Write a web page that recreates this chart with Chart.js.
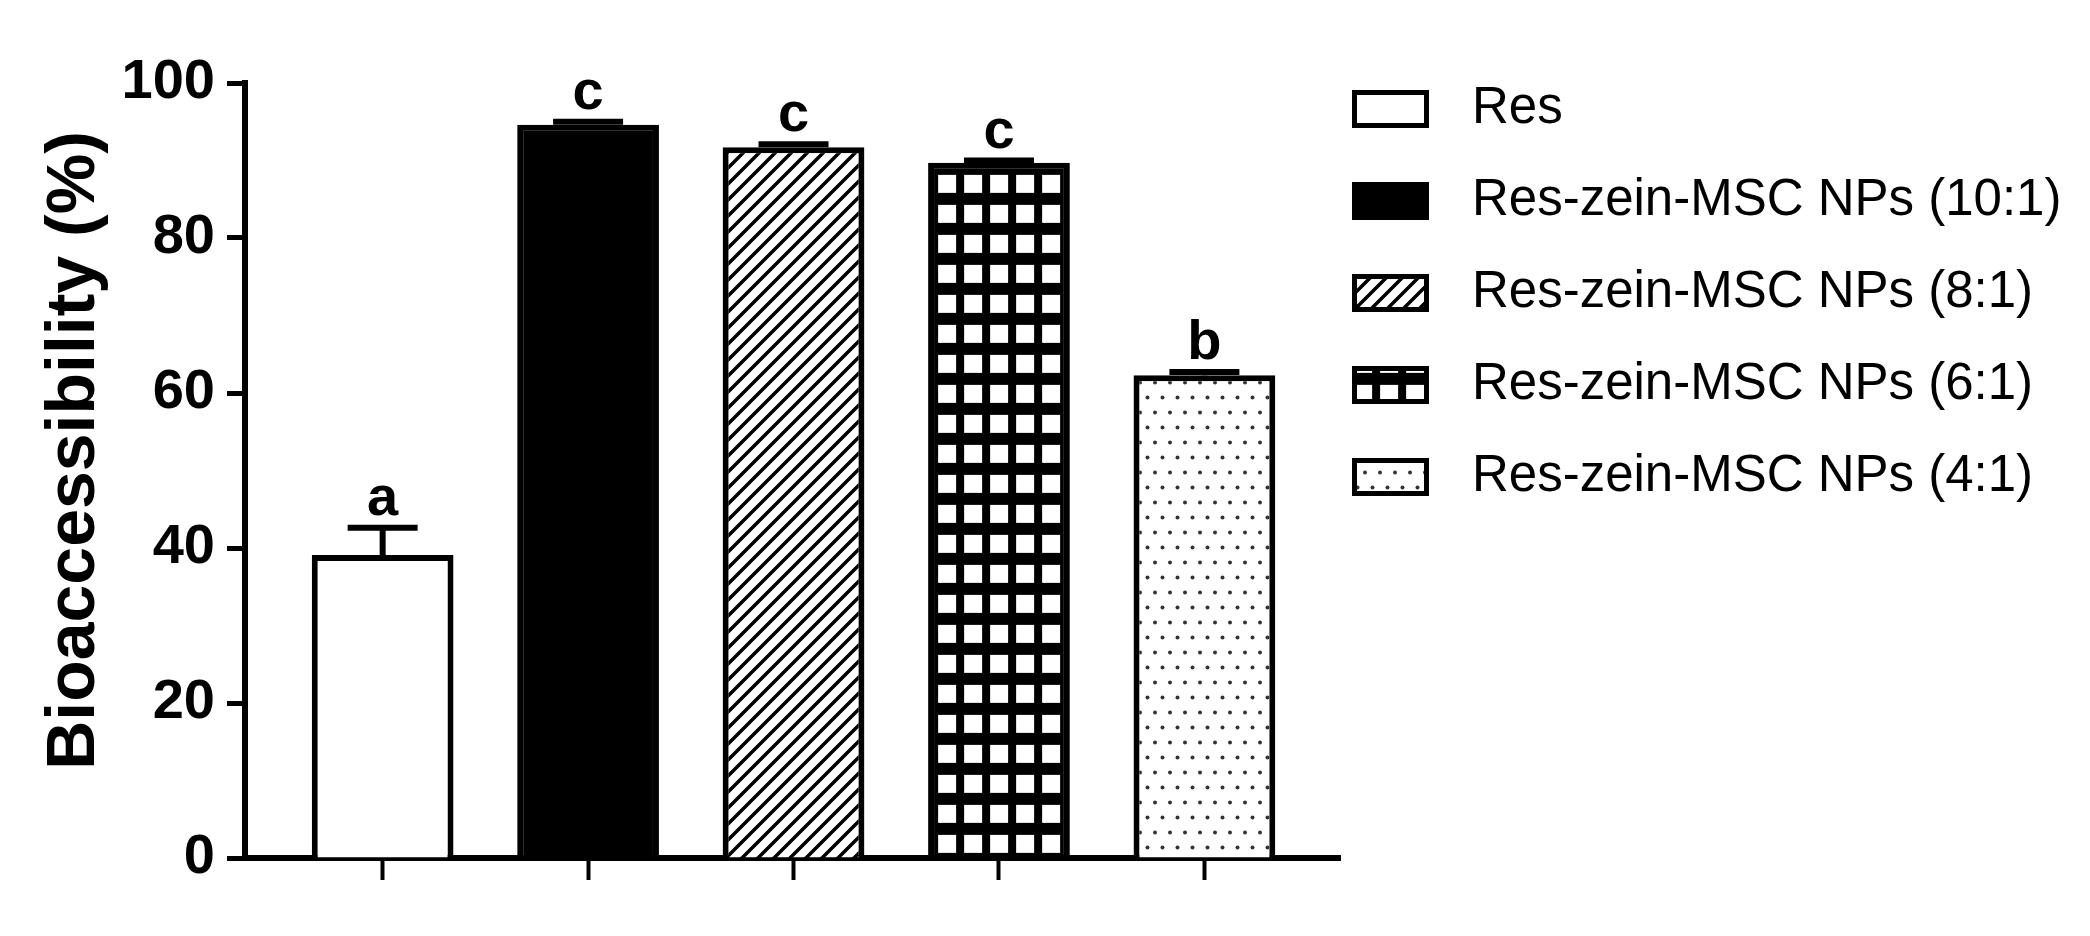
<!DOCTYPE html>
<html>
<head>
<meta charset="utf-8">
<script src="https://cdn.jsdelivr.net/npm/chart.js@4.4.1/dist/chart.umd.min.js"></script>
<style>
  html, body { margin: 0; padding: 0; background: #fff; }
  #wrap { width: 2090px; height: 936px; position: relative; }
</style>
</head>
<body>
<div id="wrap"><canvas id="bio-chart"></canvas></div>
<script>
// data
const groups = ['Res', 'Res-zein-MSC NPs (10:1)', 'Res-zein-MSC NPs (8:1)', 'Res-zein-MSC NPs (6:1)', 'Res-zein-MSC NPs (4:1)'];
const bioaccessibility = [39.1, 94.6, 91.7, 89.7, 62.3];
const sdError = [3.5, 0.4, 0.4, 0.3, 0.4];
const sigLetters = ['a', 'c', 'c', 'c', 'b'];
const yTicks = [0, 20, 40, 60, 80, 100];
const yTitle = 'Bioaccessibility (%)';

const FONT = "'Liberation Sans', Arial, Helvetica, sans-serif";

// fill patterns for the bars
function makePattern(kind) {
    const c = document.createElement('canvas');
    const g = c.getContext('2d');
    if (kind === 'hatch') {
        c.width = 16; c.height = 16;
        g.fillStyle = '#fff'; g.fillRect(0, 0, 16, 16);
        g.strokeStyle = '#000'; g.lineWidth = 3.5;
        g.beginPath();
        g.moveTo(0, 16); g.lineTo(16, 0);
        g.moveTo(-4, 4); g.lineTo(4, -4);
        g.moveTo(12, 20); g.lineTo(20, 12);
        g.stroke();
    } else if (kind === 'grid') {
        c.width = 26; c.height = 30;
        g.fillStyle = '#000'; g.fillRect(0, 0, 26, 30);
        g.fillStyle = '#fff'; g.fillRect(4, 6, 18, 18);
    } else if (kind === 'dots') {
        c.width = 15; c.height = 30;
        g.fillStyle = '#fff'; g.fillRect(0, 0, 15, 30);
        g.fillStyle = '#333';
        [[7.5, 7.5], [0, 22.5], [15, 22.5]].forEach(p => {
            g.beginPath(); g.arc(p[0], p[1], 2, 0, Math.PI * 2); g.fill();
        });
    }
    return g.createPattern(c, 'repeat');
}

const fills = ['#ffffff', '#000000', makePattern('hatch'), makePattern('grid'), makePattern('dots')];

// line the square grid up with the inside of its bar
const alignGrid = {
    id: 'alignGrid',
    beforeDatasetsDraw(chart) {
        const bar = chart.getDatasetMeta(0).data[3];
        if (!bar) return;
        const left = bar.x - bar.width / 2 + 6;
        const top = bar.y + 6;
        fills[3].setTransform(new DOMMatrix([1, 0, 0, 1, left, top]));
    }
};

// error bars + significance letters
const errorBars = {
    id: 'errorBars',
    afterDatasetsDraw(chart) {
        const ctx = chart.ctx;
        const y = chart.scales.y;
        const bars = chart.getDatasetMeta(0).data;
        ctx.save();
        ctx.strokeStyle = '#000';
        ctx.fillStyle = '#000';
        ctx.lineWidth = 6;
        bars.forEach((bar, i) => {
            const top = y.getPixelForValue(bioaccessibility[i] + sdError[i]);
            ctx.beginPath();
            ctx.moveTo(bar.x, bar.y);
            ctx.lineTo(bar.x, top);
            ctx.moveTo(bar.x - 35, top);
            ctx.lineTo(bar.x + 35, top);
            ctx.stroke();
            ctx.font = 'bold 56px ' + FONT;
            ctx.textAlign = 'center';
            ctx.textBaseline = 'alphabetic';
            ctx.fillText(sigLetters[i], bar.x, top - 13);
        });
        ctx.restore();
    }
};

// y axis title, a bit above the axis centre like the original
const yAxisTitle = {
    id: 'yAxisTitle',
    afterDraw(chart) {
        const a = chart.chartArea;
        const ctx = chart.ctx;
        ctx.save();
        ctx.translate(a.left - 170, (a.top + a.bottom) / 2 - 20);
        ctx.rotate(-Math.PI / 2);
        ctx.font = 'bold 68px ' + FONT;
        ctx.fillStyle = '#000';
        ctx.textAlign = 'center';
        ctx.textBaseline = 'middle';
        ctx.fillText(yTitle, 0, 0);
        ctx.restore();
    }
};

// legend on the right, drawn by hand (the built-in one gets capped at half the width)
const sideLegend = {
    id: 'sideLegend',
    afterDraw(chart) {
        const a = chart.chartArea;
        const ctx = chart.ctx;
        const boxX = a.right + 12;
        ctx.save();
        groups.forEach((name, i) => {
            const cy = a.top + 26 + i * 92;
            ctx.fillStyle = fills[i];
            ctx.fillRect(boxX, cy - 19, 77, 38);
            ctx.lineWidth = 5;
            ctx.strokeStyle = '#000';
            ctx.strokeRect(boxX + 2.5, cy - 16.5, 72, 33);
            ctx.fillStyle = '#000';
            ctx.font = '51px ' + FONT;
            ctx.textAlign = 'left';
            ctx.textBaseline = 'middle';
            ctx.fillText(name, boxX + 120, cy);
        });
        ctx.restore();
    }
};

const ctx = document.getElementById('bio-chart').getContext('2d');
const bioChart = new Chart(ctx, {
    type: 'bar',
    data: {
        datasets: [{
            data: groups.map((g, i) => ({ x: i, y: bioaccessibility[i] })),
            backgroundColor: fills,
            borderColor: '#000',
            borderWidth: 6,
            barPercentage: 0.69,
            categoryPercentage: 1
        }]
    },
    options: {
        responsive: true,
        maintainAspectRatio: false,
        animation: false,
        layout: { padding: { top: 83, right: 750, bottom: 0, left: 0 } },
        scales: {
            x: {
                type: 'linear',
                min: -0.67,
                max: 4.66,
                offset: false,
                z: 1,
                afterBuildTicks: s => { s.ticks = groups.map((g, i) => ({ value: i })); },
                afterFit: s => { s.height = 78; },
                ticks: { display: false },
                grid: { display: true, offset: false, drawOnChartArea: false, drawTicks: true, tickLength: 22, tickWidth: 4, tickColor: '#000' },
                border: { display: true, width: 6, color: '#000' }
            },
            y: {
                min: 0,
                max: 100,
                afterBuildTicks: s => { s.ticks = yTicks.map(v => ({ value: v })); },
                afterFit: s => { s.width = 245; },
                ticks: { color: '#000', padding: 12, font: { family: FONT, size: 56, weight: 'bold' } },
                grid: { display: true, drawOnChartArea: false, drawTicks: true, tickLength: 18, tickWidth: 5, tickColor: '#000' },
                border: { display: true, width: 6, color: '#000' }
            }
        },
        plugins: {
            tooltip: { enabled: false },
            legend: { display: false }
        }
    },
    plugins: [alignGrid, errorBars, yAxisTitle, sideLegend]
});
</script>
</body>
</html>
